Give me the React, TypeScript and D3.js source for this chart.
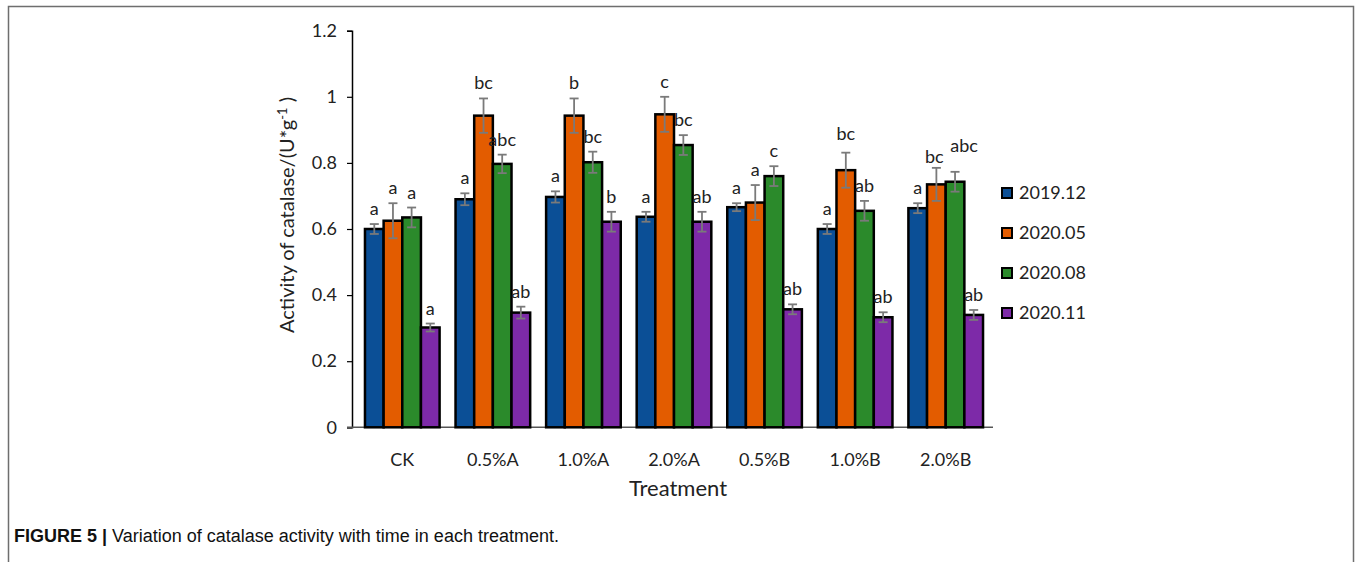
import { useEffect, useRef } from 'react';
import * as d3 from 'd3';

const categories = ['CK', '0.5%A', '1.0%A', '2.0%A', '0.5%B', '1.0%B', '2.0%B'];
const seriesNames = ['2019.12', '2020.05', '2020.08', '2020.11'];
const seriesColors = ['#0b4f96', '#e35c00', '#2b8a2b', '#7d2aa8'];

const values2019_12 = [0.600, 0.690, 0.697, 0.637, 0.666, 0.600, 0.663];
const values2020_05 = [0.625, 0.943, 0.943, 0.947, 0.680, 0.778, 0.735];
const values2020_08 = [0.635, 0.797, 0.802, 0.854, 0.760, 0.655, 0.743];
const values2020_11 = [0.302, 0.347, 0.622, 0.622, 0.357, 0.333, 0.340];

const errors2019_12 = [0.015, 0.018, 0.017, 0.015, 0.012, 0.015, 0.015];
const errors2020_05 = [0.053, 0.052, 0.052, 0.053, 0.053, 0.053, 0.050];
const errors2020_08 = [0.030, 0.028, 0.032, 0.030, 0.030, 0.030, 0.030];
const errors2020_11 = [0.012, 0.018, 0.030, 0.030, 0.015, 0.015, 0.015];

const letters2019_12 = ['a', 'a', 'a', 'a', 'a', 'a', 'a'];
const letters2020_05 = ['a', 'bc', 'b', 'c', 'a', 'bc', 'bc'];
const letters2020_08 = ['a', 'abc', 'bc', 'bc', 'c', 'ab', 'abc'];
const letters2020_11 = ['a', 'ab', 'b', 'ab', 'ab', 'ab', 'ab'];

const yTicks = [0, 0.2, 0.4, 0.6, 0.8, 1, 1.2];

const W = 1356;
const H = 562;
const FONT = 'Lato, "Open Sans", sans-serif';

// small label nudges where the original labels were moved apart (series index-category index)
const letterNudge: Record<string, [number, number]> = {
  '1-5': [0, -4],
  '1-6': [-2, 4],
  '2-6': [9, -11],
};

const App = () => {
  const svgRef = useRef<SVGSVGElement>(null);

  useEffect(() => {
    if (!svgRef.current) return;
    const svg = d3.select(svgRef.current);
    svg.selectAll('*').remove();

    const values = [values2019_12, values2020_05, values2020_08, values2020_11];
    const errors = [errors2019_12, errors2020_05, errors2020_08, errors2020_11];
    const letters = [letters2019_12, letters2020_05, letters2020_08, letters2020_11];

    // frame of the figure panel
    svg.append('path')
      .attr('d', `M8.5,${H} V6.5 H1353.5 V${H}`)
      .attr('fill', 'none')
      .attr('stroke', '#6e6e6e')
      .attr('stroke-width', 1.5);

    const yScale = d3.scaleLinear().domain([0, 1.2]).range([427.3, 30.7]);
    const xScale = d3.scaleBand<string>().domain(categories).range([357, 991]).padding(0);
    const barW = xScale.step() * 0.206;

    const axisX = 352;

    // y axis
    const yAxis = svg.append('g')
      .attr('transform', `translate(${axisX},0)`)
      .call(d3.axisLeft(yScale).tickValues(yTicks).tickSize(5).tickPadding(10).tickFormat(d => String(d)));
    yAxis.select('.domain').attr('stroke', '#000').attr('stroke-width', 1.5);
    yAxis.selectAll('.tick line').attr('stroke', '#000').attr('stroke-width', 1.2);
    yAxis.selectAll('.tick text')
      .attr('fill', '#222')
      .style('font-family', FONT)
      .style('font-size', '18px');

    // x axis line
    svg.append('line')
      .attr('x1', axisX - 5).attr('x2', 993)
      .attr('y1', yScale(0)).attr('y2', yScale(0))
      .attr('stroke', '#555')
      .attr('stroke-width', 1.5);

    // bars
    values.forEach((vals, si) => {
      const g = svg.append('g');
      g.selectAll('rect')
        .data(vals)
        .enter()
        .append('rect')
        .attr('x', (d, i) => (xScale(categories[i]) as number) + xScale.step() / 2 - 2 * barW + si * barW)
        .attr('y', d => yScale(d))
        .attr('width', barW)
        .attr('height', d => yScale(0) - yScale(d))
        .attr('fill', seriesColors[si])
        .attr('stroke', '#000')
        .attr('stroke-width', 2.5);
    });

    // error bars + significance letters
    values.forEach((vals, si) => {
      const g = svg.append('g');
      vals.forEach((v, i) => {
        const cx = (xScale(categories[i]) as number) + xScale.step() / 2 - 2 * barW + (si + 0.5) * barW;
        const e = errors[si][i];
        const top = yScale(v + e);
        const bot = yScale(v - e);
        g.append('line')
          .attr('x1', cx).attr('x2', cx).attr('y1', top).attr('y2', bot)
          .attr('stroke', '#7a7a7a').attr('stroke-width', 1.8);
        [top, bot].forEach(y => {
          g.append('line')
            .attr('x1', cx - 4.5).attr('x2', cx + 4.5).attr('y1', y).attr('y2', y)
            .attr('stroke', '#7a7a7a').attr('stroke-width', 1.8);
        });
        const [dx, dy] = letterNudge[`${si}-${i}`] || [0, 0];
        g.append('text')
          .attr('x', cx + dx)
          .attr('y', top - 9 + dy)
          .attr('text-anchor', 'middle')
          .attr('fill', '#222')
          .style('font-family', FONT)
          .style('font-size', '18px')
          .text(letters[si][i]);
      });
    });

    // category labels
    svg.append('g')
      .selectAll('text')
      .data(categories)
      .enter()
      .append('text')
      .attr('x', d => (xScale(d) as number) + xScale.step() / 2)
      .attr('y', 466)
      .attr('text-anchor', 'middle')
      .attr('fill', '#222')
      .style('font-family', FONT)
      .style('font-size', '18px')
      .text(d => d);

    // axis titles
    svg.append('text')
      .attr('x', 678)
      .attr('y', 496)
      .attr('text-anchor', 'middle')
      .attr('fill', '#222')
      .style('font-family', FONT)
      .style('font-size', '22px')
      .text('Treatment');

    const yTitle = svg.append('text')
      .attr('transform', `translate(294,${215}) rotate(-90)`)
      .attr('text-anchor', 'middle')
      .attr('fill', '#222')
      .style('font-family', FONT)
      .style('font-size', '20px');
    yTitle.append('tspan').text('Activity of catalase/(U*g');
    yTitle.append('tspan').attr('dy', -7).style('font-size', '13px').text('-1');
    yTitle.append('tspan').attr('dy', 7).text(' )');

    // legend
    const legend = svg.append('g');
    seriesNames.forEach((name, i) => {
      const cy = 193 + i * 40;
      legend.append('rect')
        .attr('x', 1002).attr('y', cy - 5)
        .attr('width', 10).attr('height', 10)
        .attr('fill', seriesColors[i])
        .attr('stroke', '#000')
        .attr('stroke-width', 2);
      legend.append('text')
        .attr('x', 1019).attr('y', cy + 6)
        .attr('fill', '#222')
        .style('font-family', FONT)
        .style('font-size', '18px')
        .text(name);
    });

    // caption
    const cap = svg.append('text')
      .attr('x', 14)
      .attr('y', 542)
      .attr('fill', '#111')
      .style('font-family', '"Liberation Sans", Arial, sans-serif')
      .style('font-size', '18px');
    cap.append('tspan').style('font-weight', 'bold').text('FIGURE 5 | ');
    cap.append('tspan').text('Variation of catalase activity with time in each treatment.');
  }, []);

  return (
    <svg
      ref={svgRef}
      width={W}
      height={H}
      style={{ position: 'absolute', left: 0, top: 0, background: '#fff' }}
    />
  );
};

export default App;
